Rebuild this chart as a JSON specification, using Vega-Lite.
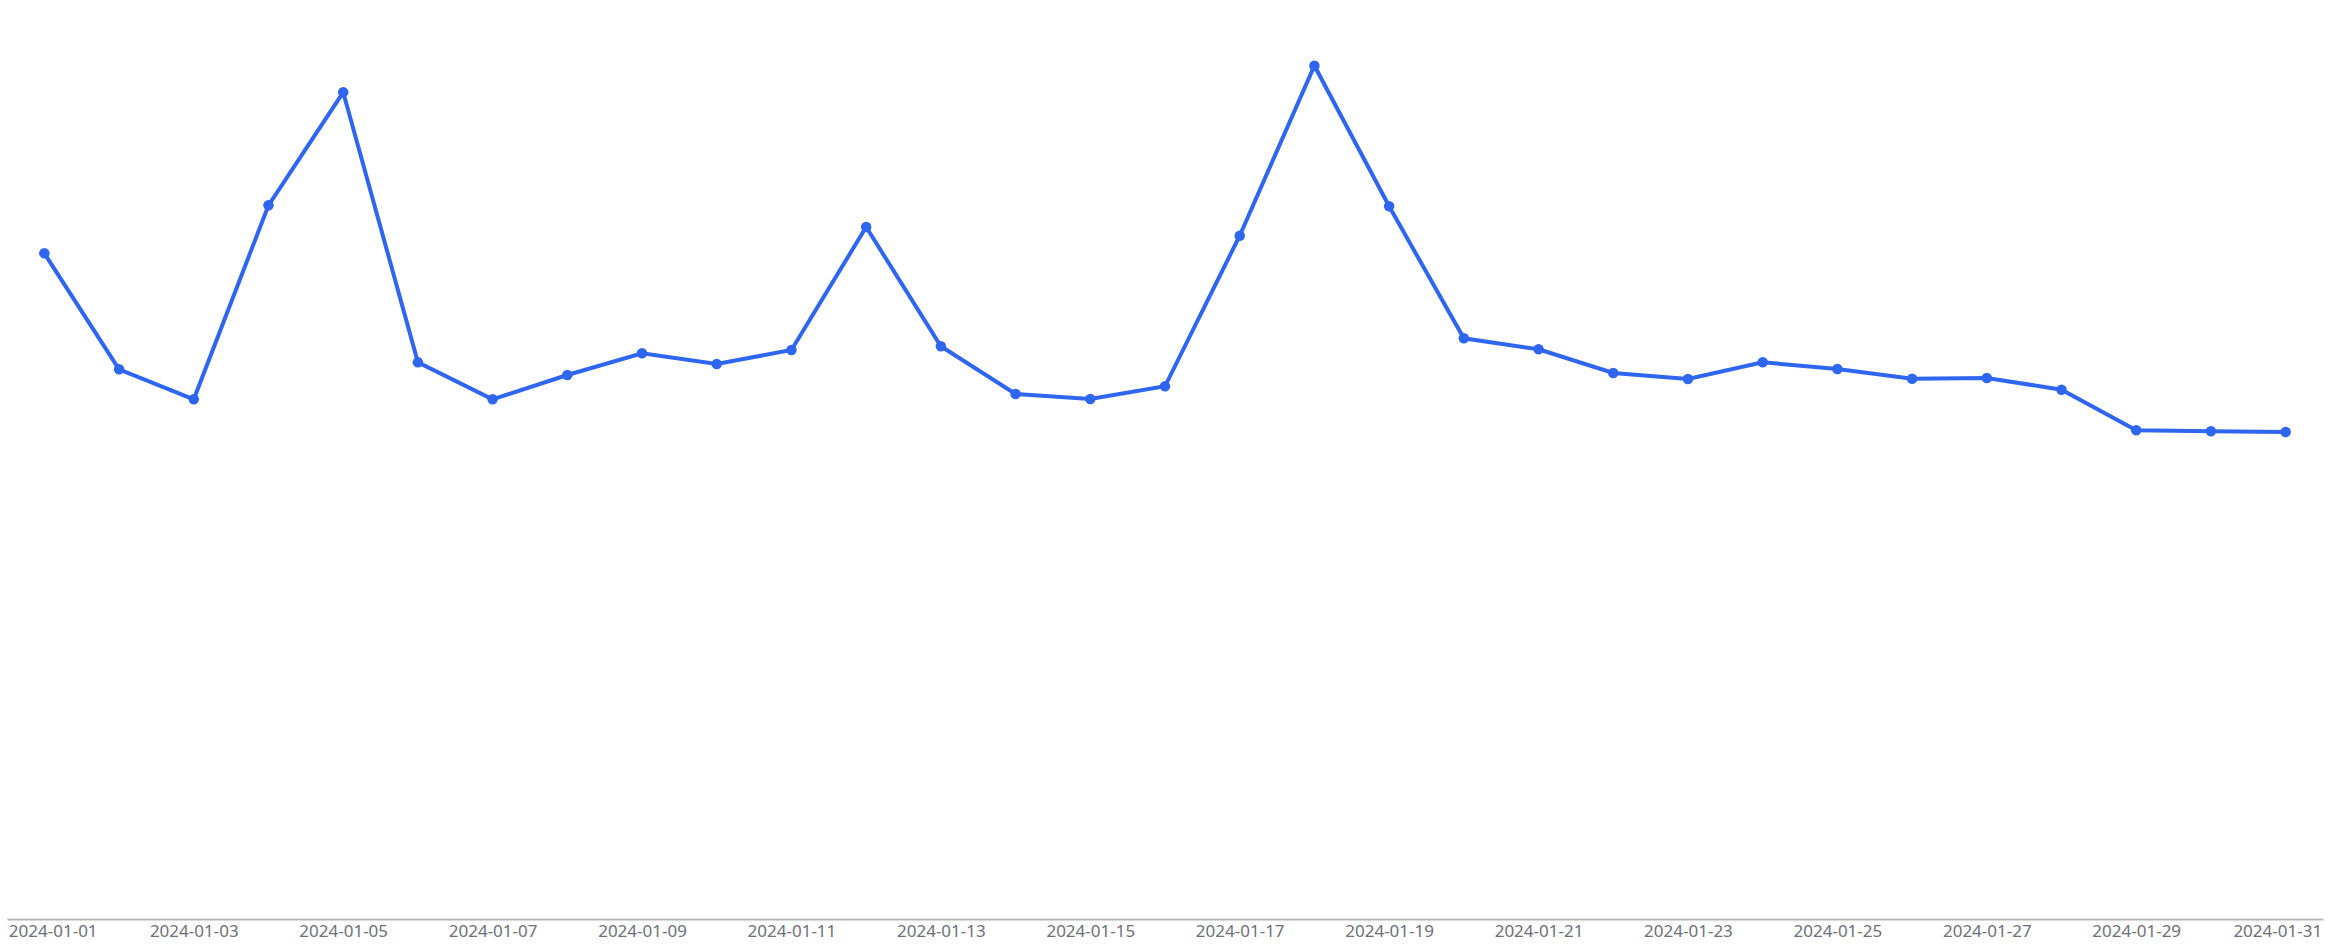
{
  "$schema": "https://vega.github.io/schema/vega-lite/v6.json",
  "width": 2316,
  "height": 919,
  "padding": {"left": 7, "top": 0, "right": 9, "bottom": 7},
  "background": "white",
  "config": {"view": {"stroke": null}},
  "data": {"values": [
    {"date": "2024-01-01", "value": 665.7},
    {"date": "2024-01-02", "value": 549.7},
    {"date": "2024-01-03", "value": 519.7},
    {"date": "2024-01-04", "value": 713.7},
    {"date": "2024-01-05", "value": 826.7},
    {"date": "2024-01-06", "value": 556.7},
    {"date": "2024-01-07", "value": 519.7},
    {"date": "2024-01-08", "value": 544.0},
    {"date": "2024-01-09", "value": 565.7},
    {"date": "2024-01-10", "value": 555.0},
    {"date": "2024-01-11", "value": 569.0},
    {"date": "2024-01-12", "value": 692.0},
    {"date": "2024-01-13", "value": 572.7},
    {"date": "2024-01-14", "value": 525.0},
    {"date": "2024-01-15", "value": 520.0},
    {"date": "2024-01-16", "value": 532.7},
    {"date": "2024-01-17", "value": 683.3},
    {"date": "2024-01-18", "value": 853.3},
    {"date": "2024-01-19", "value": 712.7},
    {"date": "2024-01-20", "value": 580.7},
    {"date": "2024-01-21", "value": 569.7},
    {"date": "2024-01-22", "value": 546.0},
    {"date": "2024-01-23", "value": 540.0},
    {"date": "2024-01-24", "value": 556.7},
    {"date": "2024-01-25", "value": 550.0},
    {"date": "2024-01-26", "value": 540.3},
    {"date": "2024-01-27", "value": 541.0},
    {"date": "2024-01-28", "value": 529.3},
    {"date": "2024-01-29", "value": 488.7},
    {"date": "2024-01-30", "value": 487.7},
    {"date": "2024-01-31", "value": 487.0}
  ]},
  "encoding": {
    "x": {
      "field": "date",
      "type": "ordinal",
      "scale": {"type": "point", "padding": 0.5},
      "axis": {
        "title": null,
        "values": ["2024-01-01", "2024-01-03", "2024-01-05", "2024-01-07", "2024-01-09", "2024-01-11", "2024-01-13", "2024-01-15", "2024-01-17", "2024-01-19", "2024-01-21", "2024-01-23", "2024-01-25", "2024-01-27", "2024-01-29", "2024-01-31"],
        "labelAngle": 0,
        "ticks": false,
        "grid": false,
        "domainColor": "#b8b8b8",
        "domainWidth": 2,
        "labelColor": "#6e7079",
        "labelFont": "Noto Sans",
        "labelFontSize": 17,
        "labelPadding": 4,
        "labelFlush": 50,
        "labelFlushOffset": 36
      }
    },
    "y": {
      "field": "value",
      "type": "quantitative",
      "scale": {"domain": [0, 919], "nice": false, "zero": true},
      "axis": null
    }
  },
  "layer": [
    {"mark": {"type": "line", "color": "#2f66f0", "strokeWidth": 4}},
    {"mark": {"type": "point", "filled": true, "color": "#2f66f0", "size": 110, "opacity": 1}}
  ]
}
